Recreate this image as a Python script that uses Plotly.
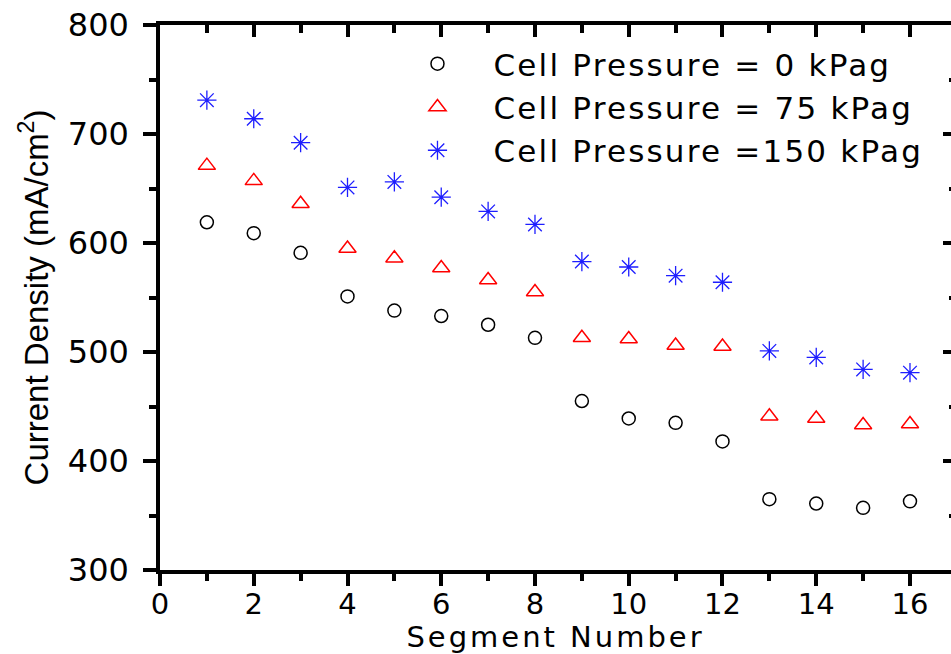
import plotly.graph_objects as go

# Segment-resolved current density at three cell back-pressures
segments = list(range(1, 17))
density_0kpag = [619, 609, 591, 551, 538, 533, 525, 513, 455, 439, 435, 418, 365, 361, 357, 363]
density_75kpag = [671, 657, 636, 595, 586, 577, 566, 555, 513, 512, 506, 505, 441, 439, 433, 434]
density_150kpag = [731, 714, 692, 651, 656, 642, 629, 617, 583, 578, 570, 564, 501, 495, 484, 481]

series_names = ["Cell Pressure = 0 kPag", "Cell Pressure = 75 kPag", "Cell Pressure =150 kPag"]

x_tickvals = list(range(0, 17, 2))
y_tickvals = list(range(300, 801, 100))
x_range = [0, 16.875]
y_range = [300, 800]

WIDE = "DejaVu Sans"
ARIAL = "Liberation Sans, Arial"


def spaced(text, px):
    """Wrap text in a span with extra letter spacing."""
    return f'<span style="letter-spacing:{px}px">{text}</span>'


fig = go.Figure()

fig.add_trace(go.Scatter(
    x=segments, y=density_0kpag, mode="markers", name=spaced(series_names[0], 2.2),
    marker=dict(symbol="circle-open", size=13, color="black", line=dict(width=1.5, color="black")),
))
fig.add_trace(go.Scatter(
    x=segments, y=density_75kpag, mode="markers", name=spaced(series_names[1], 2.2),
    marker=dict(symbol="triangle-up-open", size=15, color="red", line=dict(width=1.5, color="red")),
))
fig.add_trace(go.Scatter(
    x=segments, y=density_150kpag, mode="markers", name=spaced(series_names[2], 2.2),
    marker=dict(symbol="asterisk-open", size=16, color="rgb(30,30,255)", line=dict(width=1.3, color="rgb(30,30,255)")),
))
# empty trace that carries the mirrored top/right axes
fig.add_trace(go.Scatter(x=[], y=[], xaxis="x2", yaxis="y2", showlegend=False, hoverinfo="skip"))

axis_common = dict(showgrid=False, zeroline=False, linecolor="black", tickcolor="black", automargin=False)

fig.update_layout(
    width=951, height=654,
    margin=dict(l=160, r=0, t=25, b=84),
    paper_bgcolor="white", plot_bgcolor="white",
    xaxis=dict(
        **axis_common, range=x_range, tickvals=x_tickvals,
        ticks="outside", ticklen=12, tickwidth=3.5, showline=True, linewidth=3.5,
        minor=dict(ticks="outside", ticklen=7, tickwidth=3.5, dtick=1, tick0=0, tickcolor="black"),
        tickfont=dict(family=WIDE, size=29, color="black"), ticklabelstandoff=-7,
        title=dict(text=spaced("Segment Number", 3), font=dict(family=WIDE, size=29, color="black"), standoff=6),
    ),
    yaxis=dict(
        **axis_common, range=y_range, tickvals=y_tickvals,
        ticks="outside", ticklen=13, tickwidth=3.5, showline=True, linewidth=3.5,
        minor=dict(ticks="outside", ticklen=7, tickwidth=3.5, dtick=50, tick0=300, tickcolor="black"),
        tickfont=dict(family=WIDE, size=32, color="black"), ticklabelstandoff=8,
        title=dict(text="Current Density (mA/cm<sup>2</sup>)", font=dict(family=ARIAL, size=33, color="black"), standoff=10),
    ),
    xaxis2=dict(
        **axis_common, overlaying="x", side="top", anchor="y2", range=x_range, tickvals=x_tickvals,
        ticks="inside", ticklen=12, tickwidth=3.5, showline=True, linewidth=3.5, showticklabels=False,
        minor=dict(ticks="inside", ticklen=8, tickwidth=3.5, dtick=1, tick0=0, tickcolor="black"),
    ),
    yaxis2=dict(
        **axis_common, overlaying="y", side="right", anchor="x2", range=y_range, tickvals=y_tickvals,
        ticks="inside", ticklen=8, tickwidth=3.5, showline=False, showticklabels=False,
        minor=dict(ticks="inside", ticklen=2, tickwidth=3.5, dtick=50, tick0=300, tickcolor="black"),
    ),
    legend=dict(
        x=0.28, y=0.978, xanchor="left", yanchor="top",
        font=dict(family=WIDE, size=31, color="black"),
        bgcolor="rgba(0,0,0,0)", borderwidth=0, itemwidth=102,
    ),
    showlegend=True,
)

fig.write_html("out.html")
